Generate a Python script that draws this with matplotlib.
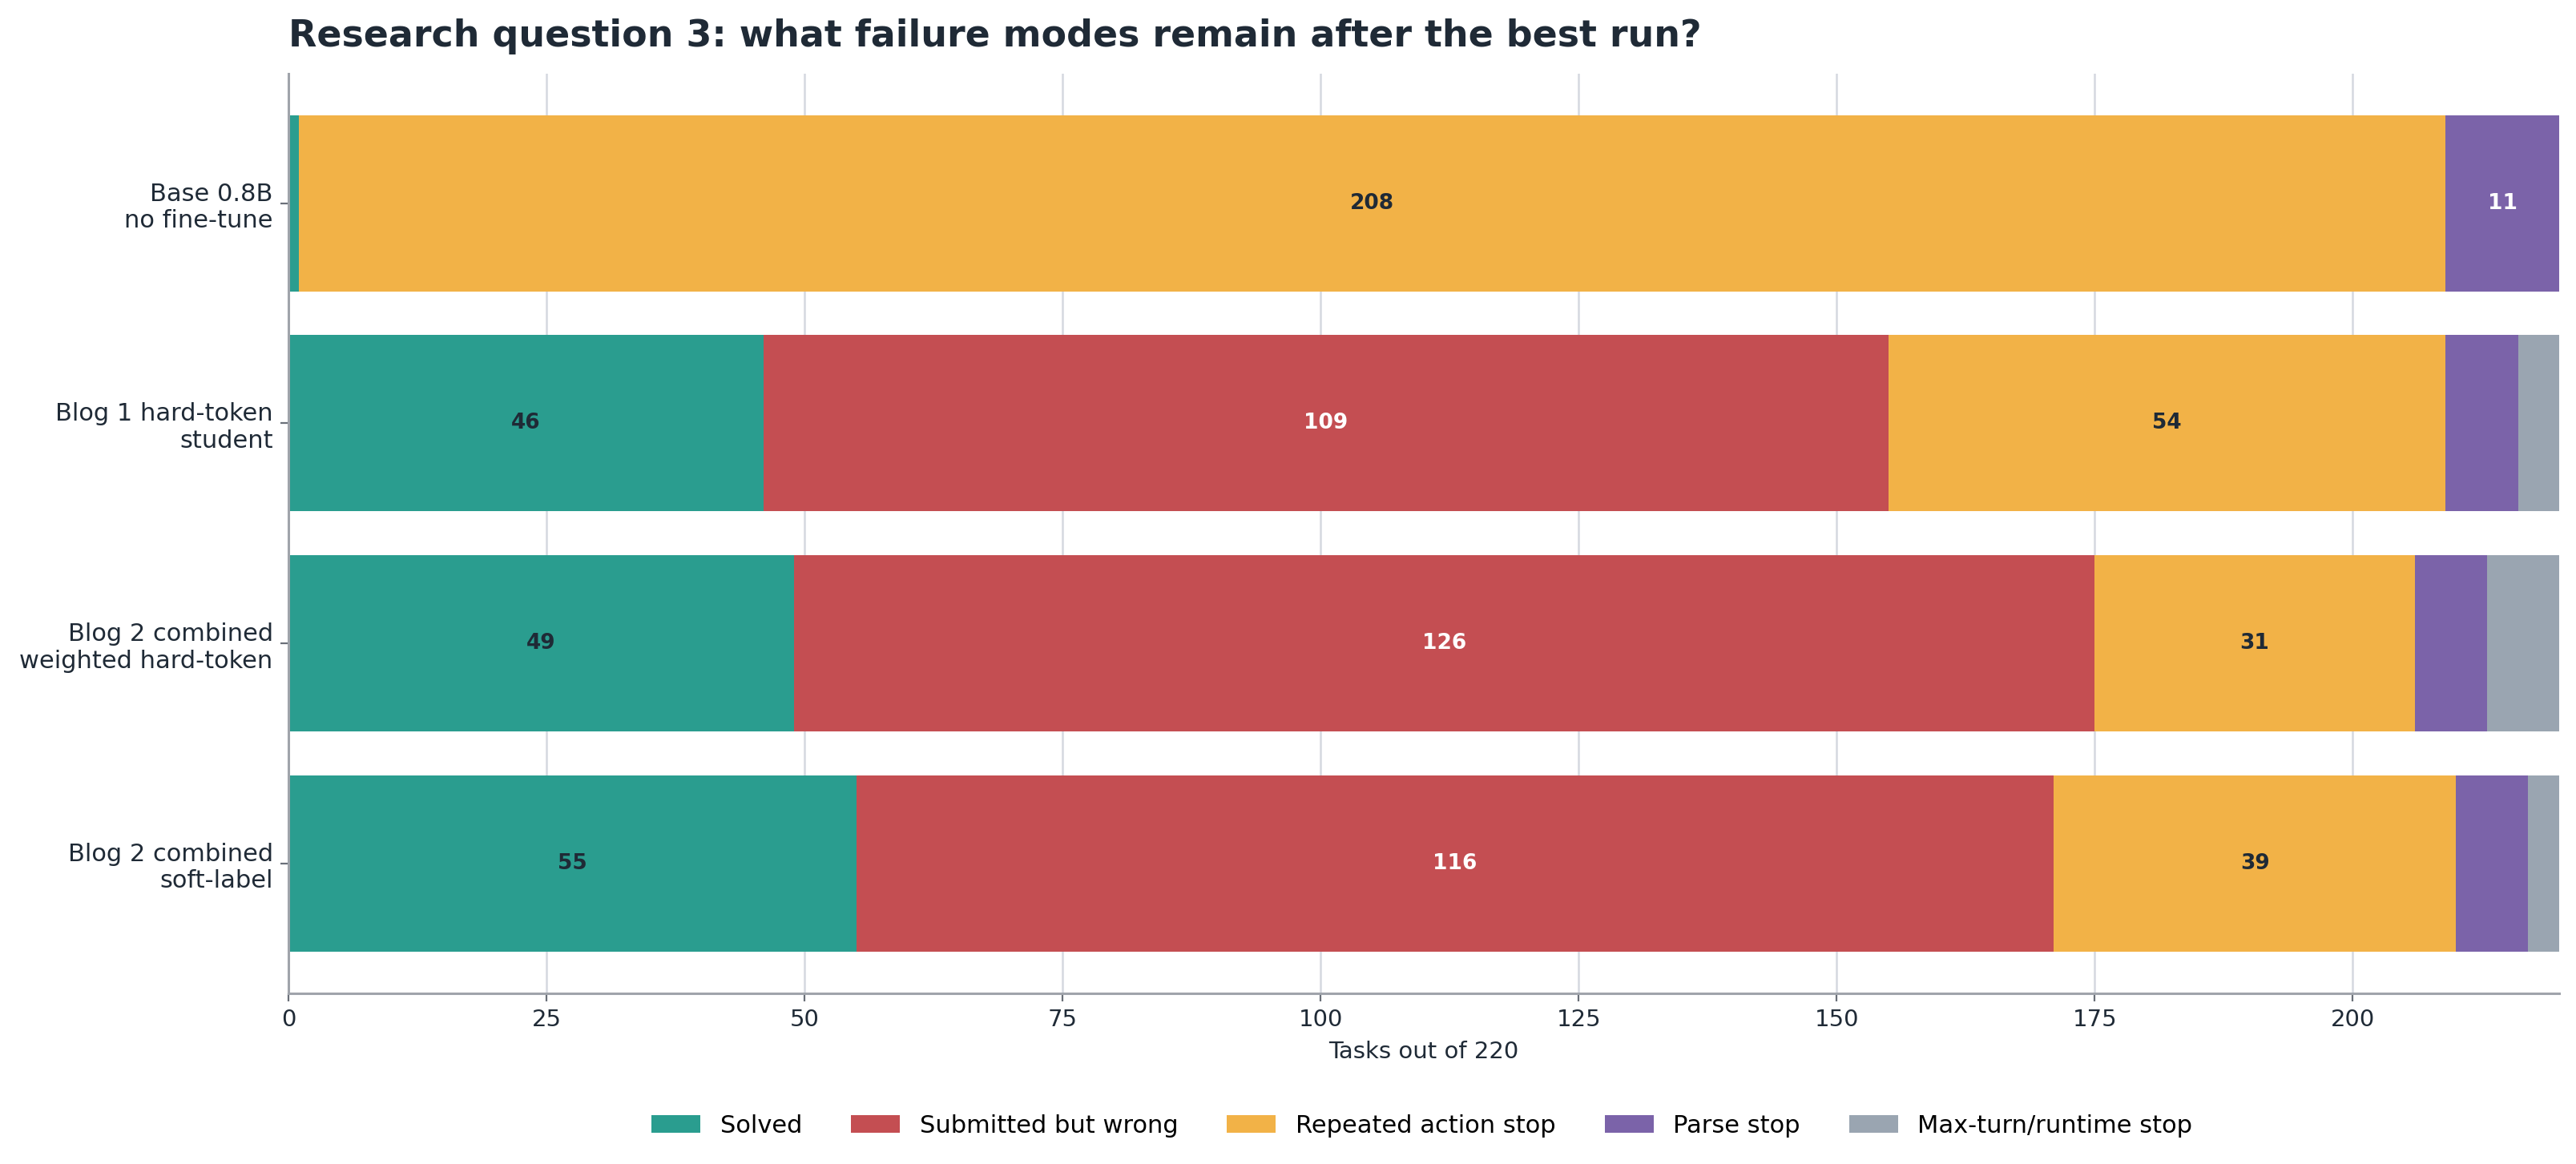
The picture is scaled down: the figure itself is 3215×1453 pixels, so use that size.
import matplotlib.pyplot as plt
import numpy as np

plt.rcParams['font.family'] = 'DejaVu Sans'

models = ["Base 0.8B\nno fine-tune", "Blog 1 hard-token\nstudent",
          "Blog 2 combined\nweighted hard-token", "Blog 2 combined\nsoft-label"]
categories = ["Solved", "Submitted but wrong", "Repeated action stop",
              "Parse stop", "Max-turn/runtime stop"]
solved = [1, 46, 49, 55]
wrong = [0, 109, 126, 116]
repeated = [208, 54, 31, 39]
parse = [11, 7, 7, 7]
maxturn = [0, 4, 7, 3]

colors = ["#2a9d8f", "#c44e52", "#f2b247", "#7b63a9", "#9aa5b1"]
label_colors = ["#1f2a36", "white", "#1f2a36", "white", "#1f2a36"]
text_col = "#1f2a36"

fig, ax = plt.subplots(figsize=(16.075, 7.265), dpi=200)
plt.subplots_adjust(left=0.112, right=0.9935, top=0.937, bottom=0.1466)

y = np.arange(len(models))
left = np.zeros(len(models))
for i, vals in enumerate([solved, wrong, repeated, parse, maxturn]):
    vals = np.array(vals, dtype=float)
    ax.barh(y, vals, left=left, height=0.8, color=colors[i], label=categories[i])
    for j, v in enumerate(vals):
        if v >= 10:
            ax.text(left[j] + v / 2, y[j], f"{int(v)}", ha='center', va='center',
                    fontsize=9.5, fontweight='bold', color=label_colors[i])
    left += vals

ax.set_yticks(y)
ax.set_yticklabels(models, fontsize=11, color=text_col)
ax.invert_yaxis()
ax.set_xlim(0, 220)
ax.set_xticks(np.arange(0, 201, 25))
ax.tick_params(axis='x', labelsize=10.5, labelcolor=text_col, color='#6b7079')
ax.tick_params(axis='y', color='#6b7079')
ax.grid(axis='x', color='#d5d8e0', linewidth=0.9)
ax.set_axisbelow(True)
for s in ['top', 'right']:
    ax.spines[s].set_visible(False)
for s in ['left', 'bottom']:
    ax.spines[s].set_color('#a0a4ab')
    ax.spines[s].set_linewidth(1.1)

ax.set_xlabel("Tasks out of 220", fontsize=10.5, color=text_col)
ax.set_title("Research question 3: what failure modes remain after the best run?",
             loc='left', fontsize=16.5, fontweight='bold', color=text_col, pad=12)
fig.legend(loc='center', bbox_to_anchor=(0.552, 0.033), ncol=5, frameon=False,
           fontsize=11, handlelength=2.0, columnspacing=2.0)

plt.savefig('out.png', dpi=200)
